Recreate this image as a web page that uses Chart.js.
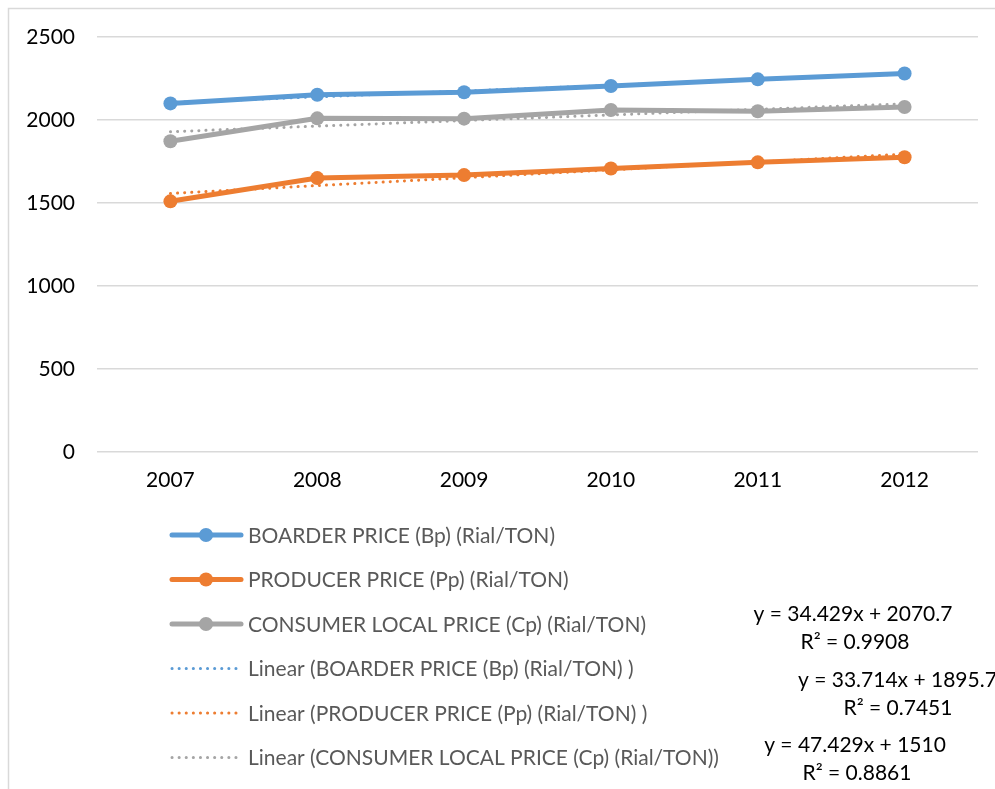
<!DOCTYPE html>
<html>
<head>
<meta charset="utf-8">
<script src="https://cdn.jsdelivr.net/npm/chart.js@4"></script>
<style>
  html, body { margin: 0; padding: 0; background: #fff; }
  #wrap { width: 995px; height: 789px; position: relative; }
</style>
</head>
<body>
<div id="wrap"><canvas id="chart"></canvas></div>
<script>
const years = ['2007', '2008', '2009', '2010', '2011', '2012'];

const boarderPrice = [2100, 2152, 2167, 2205, 2245, 2280];
const producerPrice = [1510, 1650, 1668, 1708, 1745, 1776];
const consumerPrice = [1872, 2010, 2008, 2060, 2053, 2078];

const boarderTrend = [2105.1, 2139.6, 2174.0, 2208.4, 2242.8, 2277.3];
const producerTrend = [1557.4, 1604.9, 1652.3, 1699.7, 1747.1, 1794.6];
const consumerTrend = [1929.4, 1963.1, 1996.8, 2030.6, 2064.3, 2098.0];

const yTicks = [0, 500, 1000, 1500, 2000, 2500];

const equations = [
  ['y = 34.429x + 2070.7', 'R² = 0.9908'],
  ['y = 33.714x + 1895.7', 'R² = 0.7451'],
  ['y = 47.429x + 1510', 'R² = 0.8861']
];

const BLUE = '#5B9BD5', ORANGE = '#ED7D31', GRAY = '#A5A5A5';
const FONT = 'Lato, "Open Sans", sans-serif';

function mainSeries(label, data, color) {
  return {
    label, data,
    borderColor: color, backgroundColor: color,
    borderWidth: 5, pointRadius: 7, pointHoverRadius: 7,
    pointBorderWidth: 0, pointBackgroundColor: color,
    tension: 0, order: 0, isTrend: false
  };
}
function trendSeries(label, data, color) {
  return {
    label, data,
    borderColor: color, backgroundColor: color,
    borderWidth: 3, borderDash: [0.1, 7], borderCapStyle: 'round',
    pointRadius: 0, tension: 0, order: 1, isTrend: true
  };
}

const framePlugin = {
  id: 'frame',
  beforeDraw(chart) {
    const ctx = chart.ctx;
    ctx.save();
    ctx.strokeStyle = '#d9d9d9';
    ctx.lineWidth = 1.5;
    ctx.beginPath();
    ctx.moveTo(8.5, 800);
    ctx.lineTo(8.5, 8.5);
    ctx.lineTo(1000, 8.5);
    ctx.stroke();
    ctx.restore();
  }
};

const legendPlugin = {
  id: 'sideLegend',
  afterDraw(chart) {
    const ctx = chart.ctx;
    ctx.save();
    ctx.font = '21px ' + FONT;
    ctx.textBaseline = 'middle';
    chart.data.datasets.forEach((ds, i) => {
      const y = 535 + i * 44.5;
      ctx.strokeStyle = ds.borderColor;
      if (ds.isTrend) {
        ctx.lineWidth = 3;
        ctx.lineCap = 'round';
        ctx.setLineDash([0.1, 7]);
        ctx.beginPath();
        ctx.moveTo(172, y);
        ctx.lineTo(240, y);
        ctx.stroke();
        ctx.setLineDash([]);
      } else {
        ctx.lineWidth = 5;
        ctx.lineCap = 'round';
        ctx.beginPath();
        ctx.moveTo(172, y);
        ctx.lineTo(241, y);
        ctx.stroke();
        ctx.fillStyle = ds.borderColor;
        ctx.beginPath();
        ctx.arc(206, y, 7, 0, Math.PI * 2);
        ctx.fill();
      }
      ctx.fillStyle = '#595959';
      ctx.textAlign = 'left';
      ctx.fillText(ds.label, 248, y + 1);
    });

    ctx.fillStyle = '#000';
    ctx.textAlign = 'center';
    const eqPos = [[853, 614], [898, 680], [855, 745]];
    equations.forEach((eq, i) => {
      const [cx, cy] = eqPos[i];
      if (i === 1) {
        ctx.textAlign = 'left';
        ctx.fillText(eq[0], 798, cy);
        ctx.textAlign = 'center';
      } else {
        ctx.fillText(eq[0], cx, cy);
      }
      ctx.fillText(eq[1], i === 1 ? 898 : cx + 2, cy + 28);
    });
    ctx.restore();
  }
};

new Chart(document.getElementById('chart'), {
  type: 'line',
  data: {
    labels: years,
    datasets: [
      mainSeries('BOARDER PRICE (Bp) (Rial/TON)', boarderPrice, BLUE),
      mainSeries('PRODUCER PRICE (Pp) (Rial/TON)', producerPrice, ORANGE),
      mainSeries('CONSUMER LOCAL PRICE (Cp) (Rial/TON)', consumerPrice, GRAY),
      trendSeries('Linear (BOARDER PRICE (Bp) (Rial/TON) )', boarderTrend, BLUE),
      trendSeries('Linear (PRODUCER PRICE (Pp) (Rial/TON) )', producerTrend, ORANGE),
      trendSeries('Linear (CONSUMER LOCAL PRICE (Cp) (Rial/TON))', consumerTrend, GRAY)
    ]
  },
  options: {
    responsive: true,
    maintainAspectRatio: false,
    animation: false,
    layout: { padding: { left: 0, top: 37, right: 17, bottom: 289 } },
    plugins: {
      legend: { display: false },
      tooltip: { enabled: false }
    },
    scales: {
      x: {
        offset: true,
        grid: { display: false },
        border: { display: false },
        ticks: { color: '#000', font: { family: FONT, size: 21 }, padding: 8 },
        afterFit(scale) { scale.height = 48; }
      },
      y: {
        min: 0, max: 2500,
        afterBuildTicks(scale) { scale.ticks = yTicks.map(v => ({ value: v })); },
        grid: { color: '#d9d9d9', lineWidth: 1.5, drawTicks: false },
        border: { display: false },
        ticks: {
          color: '#000', font: { family: FONT, size: 21 }, padding: 22,
          callback: v => String(v)
        },
        afterFit(scale) { scale.width = 97; }
      }
    }
  },
  plugins: [framePlugin, legendPlugin]
});
</script>
</body>
</html>
